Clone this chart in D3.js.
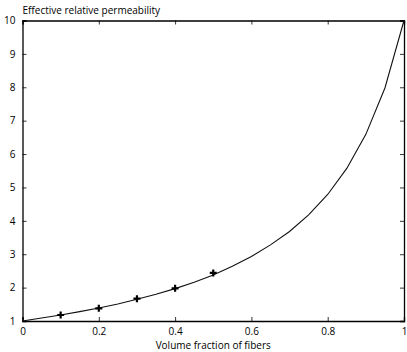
<!DOCTYPE html>
<html>
<head>
<meta charset="utf-8">
<script src="https://cdn.jsdelivr.net/npm/d3@7"></script>
<style>
  body { margin: 0; background: #fff; }
  text { font-family: "Open Sans", "DejaVu Sans", sans-serif; font-size: 10px; fill: #000; }
</style>
</head>
<body>
<div id="chart"></div>
<script>
// Curve
var fractions = [0, 0.05, 0.1, 0.15, 0.2, 0.25, 0.3, 0.35, 0.4, 0.45, 0.5,
                 0.55, 0.6, 0.65, 0.7, 0.75, 0.8, 0.85, 0.9, 0.95, 1];
var permeability = [1, 1.09, 1.18, 1.28, 1.39, 1.51, 1.65, 1.80, 1.97, 2.16, 2.38,
                    2.64, 2.93, 3.28, 3.68, 4.18, 4.79, 5.57, 6.59, 7.98, 10];

// Measured points (plus markers)
var markerX = [0.1, 0.2, 0.3, 0.4, 0.5];
var markerY = [1.18, 1.38, 1.67, 1.98, 2.44];

var xTicks = [0, 0.2, 0.4, 0.6, 0.8, 1];
var yTicks = [1, 2, 3, 4, 5, 6, 7, 8, 9, 10];

var margin = {top: 20.5, right: 3, bottom: 31, left: 22.5};
var width = 407 - margin.left - margin.right;
var height = 352 - margin.top - margin.bottom;

var svg = d3.select("#chart").append("svg")
    .attr("width", 407)
    .attr("height", 352)
    .append("g")
    .attr("transform", "translate(" + margin.left + "," + margin.top + ")");

var x = d3.scaleLinear().domain([0, 1]).range([0, width]);
var y = d3.scaleLinear().domain([1, 10]).range([height, 0]);

// Axes with inward ticks, mirrored on top and right
svg.append("g")
    .attr("transform", "translate(0," + height + ")")
    .call(d3.axisBottom(x).tickValues(xTicks).tickSize(-4).tickPadding(7).tickFormat(String));
svg.append("g")
    .call(d3.axisTop(x).tickValues(xTicks).tickSize(-4).tickFormat(""));
svg.append("g")
    .call(d3.axisLeft(y).tickValues(yTicks).tickSize(-4).tickPadding(7));
svg.append("g")
    .attr("transform", "translate(" + width + ",0)")
    .call(d3.axisRight(y).tickValues(yTicks).tickSize(-4).tickFormat(""));

svg.selectAll(".domain").attr("stroke", "#000").attr("stroke-width", 1.3);
svg.selectAll(".tick line").attr("stroke", "#000").attr("stroke-width", 0.8);
svg.selectAll(".tick text").style("font-size", "10px");

// Curve
var line = d3.line()
    .x(function(d, i) { return x(fractions[i]); })
    .y(function(d) { return y(d); });

svg.append("path")
    .datum(permeability)
    .attr("d", line)
    .attr("fill", "none")
    .attr("stroke", "#111")
    .attr("stroke-width", 1.1);

// Plus markers
svg.selectAll(".marker")
    .data(markerX)
    .enter().append("path")
    .attr("class", "marker")
    .attr("transform", function(d, i) { return "translate(" + x(d) + "," + y(markerY[i]) + ")"; })
    .attr("d", "M-3.5,0H3.5M0,-3.5V3.5")
    .attr("stroke", "#000")
    .attr("stroke-width", 2.2);

// Labels
svg.append("text")
    .attr("x", 0)
    .attr("y", -7)
    .text("Effective relative permeability");

svg.append("text")
    .attr("x", width / 2)
    .attr("y", height + 27.5)
    .attr("text-anchor", "middle")
    .text("Volume fraction of fibers");
</script>
</body>
</html>
